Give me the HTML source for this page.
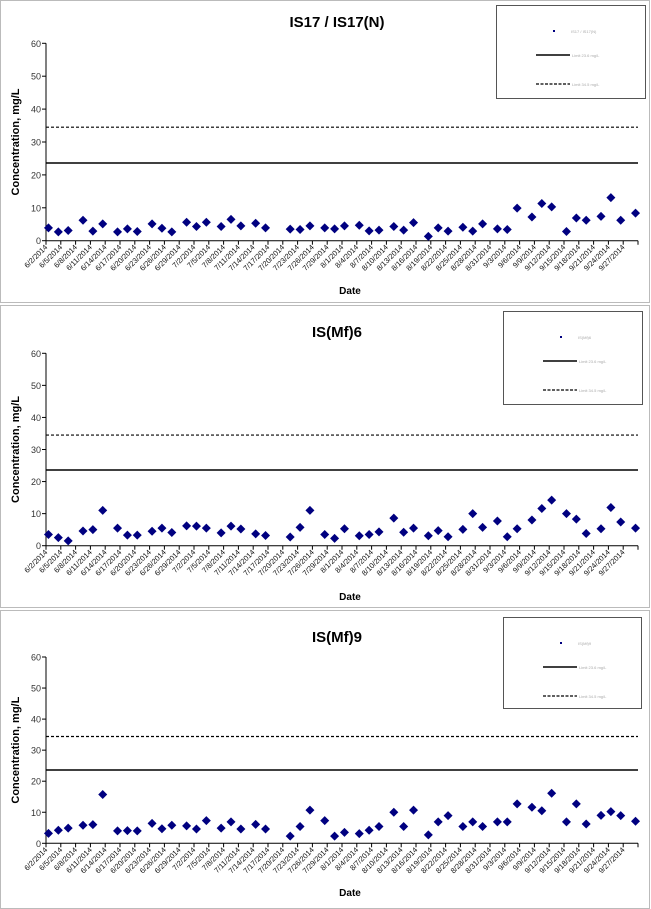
<!DOCTYPE html>
<html><head><meta charset="utf-8"><style>
body{margin:0;background:#fff;width:651px;height:909px;overflow:hidden;font-family:"Liberation Sans",Arial,sans-serif}
svg{display:block}
</style></head><body>
<svg id="c" width="651" height="909" xmlns="http://www.w3.org/2000/svg"></svg>
<script>
// sample days (offset from 6/2/2014)
const sampleDays=[0,2,4,7,9,11,14,16,18,21,23,25,28,30,32,35,37,39,42,44,49,51,53,56,58,60,63,65,67,70,72,74,77,79,81,84,86,88,91,93,95,98,100,102,105,107,109,112,114,116,119];
const tickLabels=["6/2/2014","6/5/2014","6/8/2014","6/11/2014","6/14/2014","6/17/2014","6/20/2014","6/23/2014","6/26/2014","6/29/2014","7/2/2014","7/5/2014","7/8/2014","7/11/2014","7/14/2014","7/17/2014","7/20/2014","7/23/2014","7/26/2014","7/29/2014","8/1/2014","8/4/2014","8/7/2014","8/10/2014","8/13/2014","8/16/2014","8/19/2014","8/22/2014","8/25/2014","8/28/2014","8/31/2014","9/3/2014","9/6/2014","9/9/2014","9/12/2014","9/15/2014","9/18/2014","9/21/2014","9/24/2014","9/27/2014"];
const yTicks=[0,10,20,30,40,50,60];
const seriesIS17=[3.9,2.7,3.1,6.2,2.9,5.1,2.7,3.6,2.8,5.1,3.8,2.7,5.6,4.3,5.6,4.3,6.5,4.5,5.3,3.9,3.5,3.4,4.5,3.9,3.6,4.5,4.7,3.0,3.2,4.3,3.2,5.5,1.3,3.9,2.9,4.1,2.9,5.1,3.6,3.4,9.9,7.2,11.3,10.3,2.8,6.9,6.2,7.4,13.1,6.2,8.4];
const seriesMf6=[3.5,2.5,1.5,4.6,5.0,11.0,5.5,3.3,3.3,4.5,5.5,4.1,6.2,6.1,5.5,4.0,6.1,5.2,3.7,3.2,2.7,5.7,11.0,3.5,2.3,5.3,3.1,3.5,4.3,8.6,4.2,5.5,3.1,4.7,2.8,5.1,10.0,5.7,7.7,2.8,5.3,8.0,11.6,14.2,10.0,8.3,3.8,5.3,11.9,7.4,5.5];
const seriesMf9=[3.2,4.2,4.9,5.8,6.0,15.7,4.0,4.1,4.0,6.4,4.7,5.8,5.6,4.6,7.3,4.9,6.9,4.6,6.1,4.6,2.3,5.4,10.7,7.3,2.3,3.5,3.1,4.2,5.4,10.0,5.4,10.7,2.7,6.9,8.9,5.4,6.9,5.4,6.9,6.9,12.7,11.6,10.5,16.1,6.9,12.7,6.2,9.0,10.2,8.9,7.1];
const solidLimit=[23.6,23.6,23.6];
const dashedLimit=[34.5,34.5,34.4];

const NS="http://www.w3.org/2000/svg";
const svg=document.getElementById('c');
function mk(tag,attrs,parent,text){const e=document.createElementNS(NS,tag);for(const k in attrs)e.setAttribute(k,attrs[k]);if(text!==undefined)e.textContent=text;parent.appendChild(e);return e;}

const panels=[
 {title:"IS17 / IS17(N)",data:seriesIS17,top:0,y60:43.3,y0:240.7,titleY:27,leg:[496,5,149,93],dateY:294,key:"is17"},
 {title:"IS(Mf)6",data:seriesMf6,top:305,y60:353.3,y0:545.7,titleY:337,leg:[503,311,139,93],dateY:600,key:"mf6"},
 {title:"IS(Mf)9",data:seriesMf9,top:610,y60:657,y0:843.3,titleY:642,leg:[503,617,138,91],dateY:896,key:"mf9"}
];
const X0=46,X1=638,DMAX=120;
function xScale(d){return X0+(d/DMAX)*(X1-X0);}

panels.forEach((p,pi)=>{
 const g=mk('g',{},svg);
 
 
 const ys=v=>p.y0-(v/60)*(p.y0-p.y60);
 const fr=mk('rect',{x:0.5,y:p.top+0.5,width:649,height:(pi==2?298:302),fill:'none',stroke:'#777','stroke-dasharray':'1,1'},g);
 
 
 const t=mk('text',{x:337,y:p.titleY,'text-anchor':'middle','font-size':'15','font-weight':'bold',fill:'#000'},g,p.title);
 
 
 const ya=mk('line',{x1:X0,y1:p.y60,x2:X0,y2:p.y0,stroke:'#000','stroke-width':1},g);
 
 
 yTicks.forEach(v=>{
  const y=ys(v);
  mk('line',{x1:X0-4,y1:y,x2:X0,y2:y,stroke:'#000'},g);
  const tl=mk('text',{x:X0-5,y:y+3.5,'text-anchor':'end','font-size':'9',fill:'#333'},g,String(v));
  
  
 });
 const yt=mk('text',{x:0,y:0,'text-anchor':'middle','font-size':'11','font-weight':'bold',transform:`translate(19,${(p.y60+p.y0)/2}) rotate(-90)`},g,'Concentration, mg/L');
 
 
 const xa=mk('line',{x1:X0,y1:p.y0,x2:X1,y2:p.y0,stroke:'#000'},g);
 
 
 for(let d=0;d<=DMAX;d+=3){const x=xScale(d);mk('line',{x1:x,y1:p.y0,x2:x,y2:p.y0+4,stroke:'#000'},g);}
 tickLabels.forEach((lab,i)=>{
  const x=xScale(i*3)+2,y=p.y0+7;
  const tl=mk('text',{x:0,y:0,'text-anchor':'end','font-size':'7.5',fill:'#111',transform:`translate(${x},${y}) rotate(-45)`},g,lab);
  
  
 });
 const xt=mk('text',{x:350,y:p.dateY,'text-anchor':'middle','font-size':'10','font-weight':'bold'},g,'Date');
 
 
 const sl=mk('line',{x1:X0,y1:ys(solidLimit[pi]),x2:X1,y2:ys(solidLimit[pi]),stroke:'#000','stroke-width':1.5},g);
 
 
 const dl=mk('line',{x1:X0,y1:ys(dashedLimit[pi]),x2:X1,y2:ys(dashedLimit[pi]),stroke:'#000','stroke-width':1.2,'stroke-dasharray':'3,2'},g);
 
 
 p.data.forEach((v,i)=>{
  const cx=xScale(sampleDays[i]+0.5),cy=ys(v);
  const pt=mk('polygon',{points:`${cx},${cy-4.5} ${cx+4.5},${cy} ${cx},${cy+4.5} ${cx-4.5},${cy}`,fill:'#000080'},g);
  
  
 });
 const [lx,ly,lw,lh]=p.leg;
 const lg=mk('g',{},g);
 
 
 mk('rect',{x:lx+0.5,y:ly+0.5,width:lw,height:lh,fill:'#fff',stroke:'#555','stroke-width':1},lg);
 const mx=lx+58;
 mk('rect',{x:mx-1,y:ly+25,width:2,height:2,fill:'#000080'},lg);
 mk('text',{x:mx+17,y:ly+28,'font-size':'4',fill:'#aaa'},lg,p.title);
 mk('line',{x1:lx+40,y1:ly+50,x2:lx+74,y2:ly+50,stroke:'#000','stroke-width':1.5},lg);
 mk('text',{x:lx+76,y:ly+52,'font-size':'4',fill:'#aaa'},lg,'Limit 23.6 mg/L');
 mk('line',{x1:lx+40,y1:ly+79,x2:lx+74,y2:ly+79,stroke:'#000','stroke-width':1.2,'stroke-dasharray':'3,1.5'},lg);
 mk('text',{x:lx+76,y:ly+81,'font-size':'4',fill:'#aaa'},lg,'Limit 34.5 mg/L');
});
</script>
</body></html>
